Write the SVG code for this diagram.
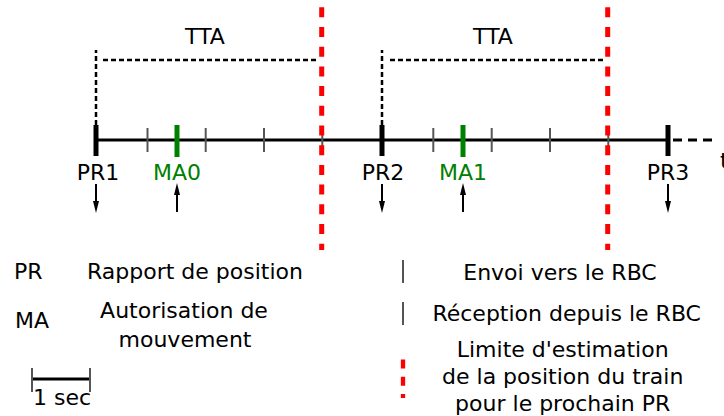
<svg xmlns="http://www.w3.org/2000/svg" width="724" height="416" viewBox="0 0 724 416">
<style>
text{font-family:"DejaVu Sans","Liberation Sans",sans-serif;font-size:22px;fill:#000}
.c{text-anchor:middle}
.g{fill:#008000}
.axis{stroke:#000;stroke-width:3;fill:none}
.pr{stroke:#000;stroke-width:5}
.ma{stroke:#008000;stroke-width:5}
.tick{stroke:#555;stroke-width:2}
.tta{stroke:#000;stroke-width:2.5;stroke-dasharray:5,3;fill:none}
.red{stroke:#ff0000;stroke-width:5;stroke-dasharray:10,9.7}
.arr{stroke:#000;stroke-width:2;fill:none}
</style>
<defs>
<marker id="ah" viewBox="0 0 12 6" refX="2" refY="3" markerWidth="6" markerHeight="3" orient="auto" markerUnits="strokeWidth">
<path d="M0,0 L12,3 L0,6 Z" fill="#000"/>
</marker>
</defs>
<g id="connectors">
<line class="axis" x1="96" y1="140" x2="668" y2="140"/>
<line class="axis" x1="673" y1="140" x2="717" y2="140" stroke-dasharray="9,6"/>
<path class="tta" d="M96,125 V50"/>
<path class="tta" d="M103,60 H318"/>
<path class="tta" d="M382,125 V50"/>
<path class="tta" d="M390,60 H605"/>
<line class="arr" x1="96" y1="184" x2="96" y2="203" marker-end="url(#ah)"/>
<line class="arr" x1="177" y1="212" x2="177" y2="193" marker-end="url(#ah)"/>
<line class="arr" x1="382" y1="184" x2="382" y2="203" marker-end="url(#ah)"/>
<line class="arr" x1="463" y1="212" x2="463" y2="193" marker-end="url(#ah)"/>
<line class="arr" x1="668" y1="184" x2="668" y2="203" marker-end="url(#ah)"/>
</g>
<g id="ticks">
<line class="tick" x1="147.5" y1="128" x2="147.5" y2="152"/>
<line class="tick" x1="205.7" y1="128" x2="205.7" y2="152"/>
<line class="tick" x1="264" y1="128" x2="264" y2="152"/>
<line class="tick" x1="322.3" y1="128" x2="322.3" y2="152"/>
<line class="tick" x1="433.3" y1="128" x2="433.3" y2="152"/>
<line class="tick" x1="491.7" y1="128" x2="491.7" y2="152"/>
<line class="tick" x1="550" y1="128" x2="550" y2="152"/>
<line class="tick" x1="608.3" y1="128" x2="608.3" y2="152"/>
</g>
<g id="PR1"><line class="pr" x1="96" y1="125" x2="96" y2="156"/><text class="c" x="98" y="180">PR1</text></g>
<g id="MA0"><line class="ma" x1="177" y1="125" x2="177" y2="157"/><text class="c g" x="177" y="180">MA0</text></g>
<g id="PR2"><line class="pr" x1="382" y1="125" x2="382" y2="156"/><text class="c" x="383" y="180">PR2</text></g>
<g id="MA1"><line class="ma" x1="463" y1="125" x2="463" y2="157"/><text class="c g" x="463" y="180">MA1</text></g>
<g id="PR3"><line class="pr" x1="668" y1="125" x2="668" y2="156"/><text class="c" x="668" y="180">PR3</text></g>
<g id="TTA1"><text class="c" x="205" y="44">TTA</text></g>
<g id="TTA2"><text class="c" x="493" y="44">TTA</text></g>
<g id="t"><text x="720" y="168">t</text></g>
<g id="limit1"><line class="red" x1="321.7" y1="7.3" x2="321.7" y2="250"/></g>
<g id="limit2"><line class="red" x1="607.7" y1="7.3" x2="607.7" y2="250"/></g>
<g id="legend">
<text x="14" y="279">PR</text>
<text class="c" x="195" y="279">Rapport de position</text>
<text x="15" y="328">MA</text>
<text class="c" x="184" y="318">Autorisation de</text>
<text class="c" x="185" y="347">mouvement</text>
<line x1="32" y1="379" x2="90" y2="379" stroke="#000" stroke-width="3"/>
<line class="tick" x1="32" y1="368" x2="32" y2="392"/>
<line class="tick" x1="90" y1="368" x2="90" y2="392"/>
<text class="c" x="62" y="405">1 sec</text>
<line class="tick" x1="403" y1="260" x2="403" y2="283"/>
<text class="c" x="560" y="280">Envoi vers le RBC</text>
<line class="tick" x1="403" y1="302" x2="403" y2="325"/>
<text class="c" x="566.7" y="321">Réception depuis le RBC</text>
<line x1="403" y1="359.5" x2="403" y2="398" stroke="#ff0000" stroke-width="4.3" stroke-dasharray="9,8.3"/>
<text class="c" x="562.7" y="357">Limite d'estimation</text>
<text class="c" x="562.7" y="384">de la position du train</text>
<text class="c" x="562.7" y="411">pour le prochain PR</text>
</g>
</svg>
